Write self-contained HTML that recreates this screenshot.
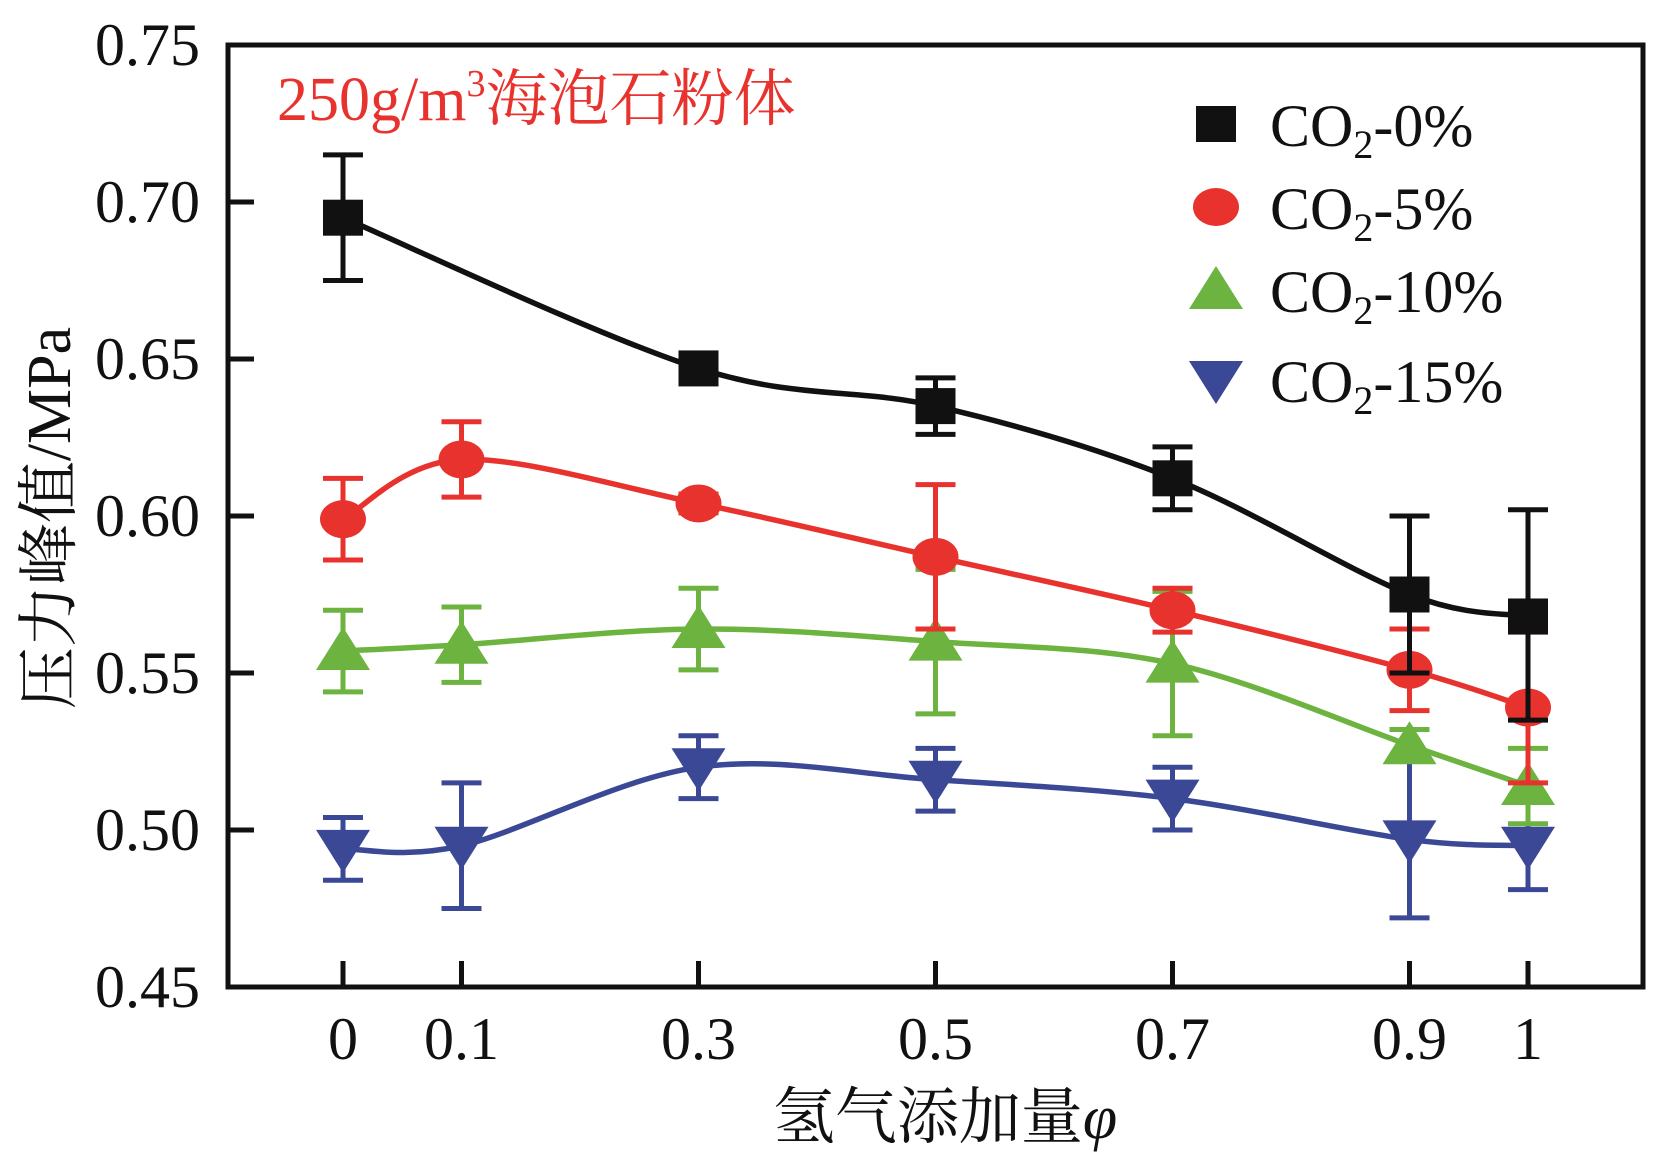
<!DOCTYPE html>
<html><head><meta charset="utf-8"><style>
html,body{margin:0;padding:0;background:#fff}
svg text{font-family:"Liberation Serif","Noto Serif CJK SC",serif}
</style></head><body>
<svg id="chart" width="1677" height="1157" viewBox="0 0 1677 1157" xmlns="http://www.w3.org/2000/svg">
<g id="plot"></g>
<text x="277" y="120" font-size="62" fill="#e8322e">250g/m<tspan font-size="38" dy="-24">3</tspan><tspan dy="24">海泡石粉体</tspan></text>
<text x="945" y="1138" font-size="62" fill="#111" text-anchor="middle">氢气添加量<tspan font-style="italic">φ</tspan></text>
<text transform="translate(70,518) rotate(-90)" font-size="62" fill="#111" text-anchor="middle">压力峰值/MPa</text>
</svg>
<script>
const xCats=[0,0.1,0.3,0.5,0.7,0.9,1];
const xTickLabels=["0","0.1","0.3","0.5","0.7","0.9","1"];
const yTicks=[0.45,0.50,0.55,0.60,0.65,0.70,0.75];
const yTickLabels=["0.45","0.50","0.55","0.60","0.65","0.70","0.75"];
const co2_0=[0.695,null,0.647,0.635,0.612,0.575,0.568];
const co2_0_up=[0.715,null,0.650,0.644,0.622,0.600,0.602];
const co2_0_lo=[0.675,null,0.644,0.626,0.602,0.550,0.535];
const co2_5=[0.599,0.618,0.604,0.587,0.570,0.551,0.539];
const co2_5_err=[0.013,0.012,0.003,0.023,0.007,0.013,0.024];
const co2_10=[0.557,0.559,0.564,0.560,0.553,0.527,0.514];
const co2_10_err=[0.013,0.012,0.013,0.023,0.023,0.005,0.012];
const co2_15=[0.494,0.495,0.520,0.516,0.510,0.497,0.495];
const co2_15_err=[0.010,0.020,0.010,0.010,0.010,0.025,0.014];

const L=228,R=1643,T=45,B=987;
const X0=343,X1=1528;
function xs(v){return X0+(X1-X0)*v;}
function ys(v){return B-(v-0.45)/(0.30)*(B-T);}
const NS="http://www.w3.org/2000/svg";
const g=document.getElementById('plot');
function mk(tag,attrs,parent){const e=document.createElementNS(NS,tag);for(const k in attrs)e.setAttribute(k,attrs[k]);(parent||g).appendChild(e);return e;}

let fr=mk('rect',{x:L,y:T,width:R-L,height:B-T,fill:'none',stroke:'#111','stroke-width':5});


yTicks.forEach((v,i)=>{
  let t=mk('line',{x1:L,x2:L+26,y1:ys(v),y2:ys(v),stroke:'#111','stroke-width':5});
  
  
  let lb=mk('text',{x:200,y:ys(v)+20,'text-anchor':'end','font-size':60,fill:'#111'});
  lb.textContent=yTickLabels[i];
  
  
});
xCats.forEach((v,i)=>{
  let t=mk('line',{x1:xs(v),x2:xs(v),y1:B,y2:B-26,stroke:'#111','stroke-width':5});
  
  
  let lb=mk('text',{x:xs(v),y:B+72,'text-anchor':'middle','font-size':60,fill:'#111'});
  lb.textContent=xTickLabels[i];
  
  
});

function curve(vals,color,name){
  const pts=[];vals.forEach((v,i)=>{if(v!=null)pts.push([xs(xCats[i]),ys(v)]);});
  let d='M'+pts[0][0]+','+pts[0][1];
  for(let i=0;i<pts.length-1;i++){
    const p0=pts[Math.max(i-1,0)],p1=pts[i],p2=pts[i+1],p3=pts[Math.min(i+2,pts.length-1)];
    const c1=[p1[0]+(p2[0]-p0[0])/6,p1[1]+(p2[1]-p0[1])/6];
    const c2=[p2[0]-(p3[0]-p1[0])/6,p2[1]-(p3[1]-p1[1])/6];
    d+=' C'+c1.join(',')+' '+c2.join(',')+' '+p2.join(',');
  }
  let p=mk('path',{d:d,fill:'none',stroke:color,'stroke-width':5.5});
  
  
}
function errs(vals,up,lo,color,name){
  vals.forEach((v,i)=>{
    if(v==null)return;const x=xs(xCats[i]);
    const a=ys(up[i]),b=ys(lo[i]);
    let e=mk('path',{d:'M'+x+','+a+'V'+b+'M'+(x-20)+','+a+'H'+(x+20)+'M'+(x-20)+','+b+'H'+(x+20),stroke:color,'stroke-width':5,fill:'none'});
    
    
  });
}
function marker(type,x,y,color){
  let m;
  if(type==='sq')m=mk('rect',{x:x-20,y:y-18,width:40,height:36,fill:color});
  else if(type==='ci')m=mk('ellipse',{cx:x,cy:y,rx:23,ry:19,fill:color});
  else if(type==='up')m=mk('polygon',{points:x+','+(y-24)+' '+(x+27)+','+(y+19)+' '+(x-27)+','+(y+19),fill:color});
  else m=mk('polygon',{points:x+','+(y+24)+' '+(x+27)+','+(y-19)+' '+(x-27)+','+(y-19),fill:color});
  return m;
}
function series(vals,up,lo,color,type,name){
  curve(vals,color,name);
  errs(vals,up,lo,color,name);
  vals.forEach((v,i)=>{if(v==null)return;
    let m=marker(type,xs(xCats[i]),ys(v),color);
    
    
  });
}
const pm=(v,e,s)=>v.map((x,i)=>x+s*e[i]);
series(co2_15,pm(co2_15,co2_15_err,1),pm(co2_15,co2_15_err,-1),'#3a4896','dn','co2-15');
series(co2_10,pm(co2_10,co2_10_err,1),pm(co2_10,co2_10_err,-1),'#6db33f','up','co2-10');
series(co2_5,pm(co2_5,co2_5_err,1),pm(co2_5,co2_5_err,-1),'#e8322e','ci','co2-5');
series(co2_0,co2_0_up,co2_0_lo,'#111111','sq','co2-0');

const legNames=['0','5','10','15'],legCols=['#111111','#e8322e','#6db33f','#3a4896'],legTypes=['sq','ci','up','dn'],legY=[124,207,290,380];
legNames.forEach((n,i)=>{
  let m=marker(legTypes[i],1216,legY[i],legCols[i]);
  
  
  let t=mk('text',{x:1270,y:legY[i]+22,'font-size':60,fill:'#111'});
  let a=mk('tspan',{},t);a.textContent='CO';
  let b=mk('tspan',{'font-size':40,dy:12},t);b.textContent='2';
  let c=mk('tspan',{dy:-12},t);c.textContent='-'+n+'%';
  
  
});
</script>
</body></html>
